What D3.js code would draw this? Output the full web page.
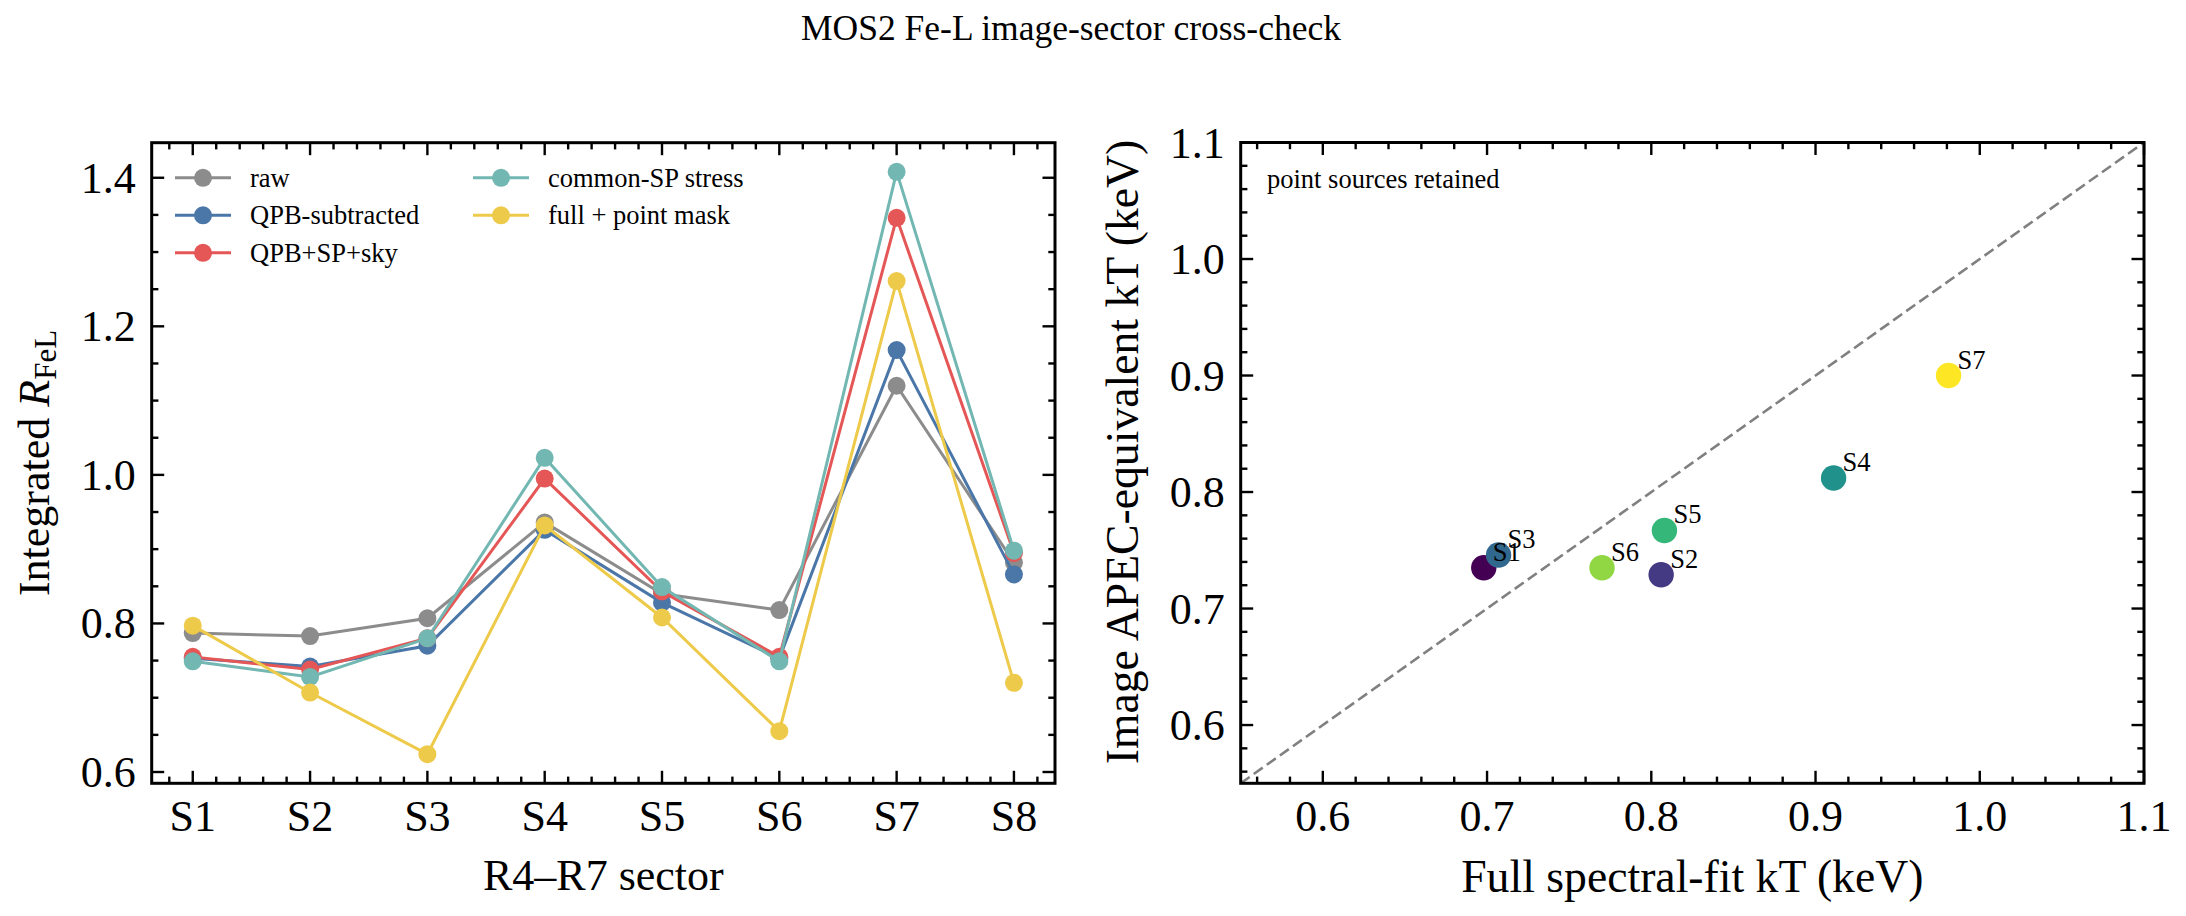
<!DOCTYPE html>
<html>
<head>
<meta charset="utf-8">
<script src="https://cdn.jsdelivr.net/npm/d3@7"></script>
<style>
	body { margin: 0; background: #fff; }
	svg { font-family: "Liberation Serif", "Times New Roman", serif; }
</style>
</head>
<body>
<svg id="viz"></svg>
<script>
// ---- data ----
const sectors = ["S1", "S2", "S3", "S4", "S5", "S6", "S7", "S8"];

const rawRatio    = [0.787, 0.783, 0.807, 0.936, 0.840, 0.818, 1.120, 0.882];
const qpbRatio    = [0.753, 0.742, 0.770, 0.926, 0.828, 0.753, 1.168, 0.866];
const qpbSpSky    = [0.755, 0.738, 0.780, 0.995, 0.843, 0.755, 1.346, 0.895];
const commonSp    = [0.749, 0.728, 0.780, 1.023, 0.849, 0.749, 1.408, 0.898];
const pointMask   = [0.797, 0.707, 0.624, 0.932, 0.808, 0.655, 1.261, 0.720];

const seriesNames  = ["raw", "QPB-subtracted", "QPB+SP+sky", "common-SP stress", "full + point mask"];
const seriesValues = [rawRatio, qpbRatio, qpbSpSky, commonSp, pointMask];
const seriesColors = ["#8c8c8c", "#4a76a8", "#e45756", "#72b7b2", "#eeca4b"];

const scatterNames = ["S1", "S2", "S3", "S4", "S5", "S6", "S7"];
const fullFitKT    = [0.698, 0.806, 0.707, 0.911, 0.808, 0.770, 0.981];
const imageKT      = [0.735, 0.729, 0.746, 0.812, 0.767, 0.735, 0.900];

const kTTicks = [0.6, 0.7, 0.8, 0.9, 1.0, 1.1];
const ratioTicks = [0.6, 0.8, 1.0, 1.2, 1.4];

// ---- layout ----
const width = 2186;
const height = 916;
const leftBox  = { x0: 151.7, x1: 1055, y0: 142.7, y1: 783.3 };
const rightBox = { x0: 1240.7, x1: 2144, y0: 142.5, y1: 783.3 };
const majorLen = 12.5, minorLen = 6.7;
const tickFont = 44, labelFont = 44, smallFont = 26.5;

const svg = d3.select("svg#viz")
	.attr("width", width)
	.attr("height", height);

svg.append("text")
	.attr("x", 1071).attr("y", 40)
	.attr("text-anchor", "middle")
	.attr("font-size", 35.5)
	.text("MOS2 Fe-L image-sector cross-check");

drawLeft();
drawRight();

function drawLeft() {
	const b = leftBox;
	const x = d3.scaleLinear().domain([-0.35, sectors.length - 1 + 0.35]).range([b.x0, b.x1]);

	// matplotlib style 5% margin on the value range
	const all = seriesValues.flat();
	const [lo, hi] = d3.extent(all);
	const pad = (hi - lo) * 0.05;
	const y = d3.scaleLinear().domain([lo - pad, hi + pad]).range([b.y1, b.y0]);

	const g = svg.append("g").attr("id", "left");

	const xMinor = d3.range(-1, 37).map(d => d * 0.2).filter(d => Math.abs(d - Math.round(d)) > 1e-6 && d > -0.35 && d < 7.35);
	const yMinor = d3.range(11, 30).map(d => d * 0.05).filter(d => d > y.domain()[0] && d < y.domain()[1] && Math.abs(d * 5 - Math.round(d * 5)) > 1e-6);

	drawTicks(g, b, x, y, d3.range(sectors.length), xMinor, ratioTicks, yMinor,
		i => sectors[i], d => d.toFixed(1));

	// lines + markers
	const line = d3.line().x((d, i) => x(i)).y(d => y(d));
	seriesValues.forEach(function(vals, k) {
		const s = g.append("g").attr("class", "series");
		s.append("path")
			.attr("d", line(vals))
			.attr("fill", "none")
			.attr("stroke", seriesColors[k])
			.attr("stroke-width", 3);
		s.selectAll("circle")
			.data(vals)
			.join("circle")
			.attr("cx", (d, i) => x(i))
			.attr("cy", d => y(d))
			.attr("r", 9)
			.attr("fill", seriesColors[k]);
	});

	drawFrame(g, b);

	// legend (2 columns, column-major)
	const legend = g.append("g").attr("id", "legend");
	const colX = [175, 473];
	const rowY = [177.8, 215.3, 252.8];
	seriesNames.forEach(function(name, k) {
		const cx = colX[Math.floor(k / 3)];
		const cy = rowY[k % 3];
		legend.append("line")
			.attr("x1", cx).attr("x2", cx + 56)
			.attr("y1", cy).attr("y2", cy)
			.attr("stroke", seriesColors[k]).attr("stroke-width", 3);
		legend.append("circle")
			.attr("cx", cx + 28).attr("cy", cy).attr("r", 9)
			.attr("fill", seriesColors[k]);
		legend.append("text")
			.attr("x", cx + 75).attr("y", cy + 9)
			.attr("font-size", smallFont)
			.text(name);
	});

	// axis labels
	g.append("text")
		.attr("x", (b.x0 + b.x1) / 2).attr("y", 890)
		.attr("text-anchor", "middle")
		.attr("font-size", labelFont)
		.text("R4\u2013R7 sector");

	const yl = g.append("text")
		.attr("transform", translate(49, (b.y0 + b.y1) / 2) + " rotate(-90)")
		.attr("text-anchor", "middle")
		.attr("font-size", labelFont);
	yl.append("tspan").text("Integrated ");
	yl.append("tspan").attr("font-style", "italic").text("R");
	yl.append("tspan").attr("font-size", 31).attr("dy", "0.22em").text("FeL");
}

function drawRight() {
	const b = rightBox;
	const x = d3.scaleLinear().domain([0.55, 1.1]).range([b.x0, b.x1]);
	const y = d3.scaleLinear().domain([0.55, 1.1]).range([b.y1, b.y0]);

	const g = svg.append("g").attr("id", "right");

	const minor = d3.range(28, 56).map(d => d * 0.02).filter(d => Math.abs(d * 10 - Math.round(d * 10)) > 1e-6);

	drawTicks(g, b, x, y, kTTicks, minor, kTTicks, minor,
		d => d.toFixed(1), d => d.toFixed(1));

	// one-to-one line
	g.append("line")
		.attr("x1", x(0.55)).attr("y1", y(0.55))
		.attr("x2", x(1.1)).attr("y2", y(1.1))
		.attr("stroke", "#808080")
		.attr("stroke-width", 2.6)
		.attr("stroke-dasharray", "11,5");

	const color = d3.scaleSequential(d3.interpolateViridis).domain([0, scatterNames.length - 1]);

	g.append("g").selectAll("circle")
		.data(scatterNames)
		.join("circle")
		.attr("cx", (d, i) => x(fullFitKT[i]))
		.attr("cy", (d, i) => y(imageKT[i]))
		.attr("r", 12.7)
		.attr("fill", (d, i) => color(i));

	g.append("g").selectAll("text")
		.data(scatterNames)
		.join("text")
		.attr("x", (d, i) => x(fullFitKT[i]) + 9)
		.attr("y", (d, i) => y(imageKT[i]) - 7)
		.attr("font-size", smallFont)
		.text(d => d);

	drawFrame(g, b);

	g.append("text")
		.attr("x", 1267).attr("y", 188)
		.attr("font-size", smallFont)
		.text("point sources retained");

	g.append("text")
		.attr("x", (b.x0 + b.x1) / 2).attr("y", 892)
		.attr("text-anchor", "middle")
		.attr("font-size", 45.7)
		.text("Full spectral-fit kT (keV)");

	g.append("text")
		.attr("transform", translate(1138, 452) + " rotate(-90)")
		.attr("text-anchor", "middle")
		.attr("font-size", 45.7)
		.text("Image APEC-equivalent kT (keV)");
}

// inward ticks on all four sides, labels on bottom and left
function drawTicks(g, b, x, y, xMajor, xMinor, yMajor, yMinor, xFmt, yFmt) {
	const t = g.append("g").attr("class", "ticks")
		.attr("stroke", "#000").attr("stroke-width", 2.4);

	function hTicks(vals, len) {
		vals.forEach(function(v) {
			t.append("line").attr("x1", x(v)).attr("x2", x(v)).attr("y1", b.y1).attr("y2", b.y1 - len);
			t.append("line").attr("x1", x(v)).attr("x2", x(v)).attr("y1", b.y0).attr("y2", b.y0 + len);
		});
	}
	function vTicks(vals, len) {
		vals.forEach(function(v) {
			t.append("line").attr("y1", y(v)).attr("y2", y(v)).attr("x1", b.x0).attr("x2", b.x0 + len);
			t.append("line").attr("y1", y(v)).attr("y2", y(v)).attr("x1", b.x1).attr("x2", b.x1 - len);
		});
	}
	hTicks(xMajor, majorLen);
	hTicks(xMinor, minorLen);
	vTicks(yMajor, majorLen);
	vTicks(yMinor, minorLen);

	g.append("g").selectAll("text")
		.data(xMajor)
		.join("text")
		.attr("x", d => x(d))
		.attr("y", b.y1 + 48)
		.attr("text-anchor", "middle")
		.attr("font-size", tickFont)
		.text(xFmt);

	g.append("g").selectAll("text")
		.data(yMajor)
		.join("text")
		.attr("x", b.x0 - 16)
		.attr("y", d => y(d) + 15)
		.attr("text-anchor", "end")
		.attr("font-size", tickFont)
		.text(yFmt);
}

function drawFrame(g, b) {
	g.append("rect")
		.attr("x", b.x0).attr("y", b.y0)
		.attr("width", b.x1 - b.x0).attr("height", b.y1 - b.y0)
		.attr("fill", "none")
		.attr("stroke", "#000")
		.attr("stroke-width", 3);
}

//Helper functions
function translate(x, y) {
	return "translate(" + x + "," + y + ")";
}
</script>
</body>
</html>
